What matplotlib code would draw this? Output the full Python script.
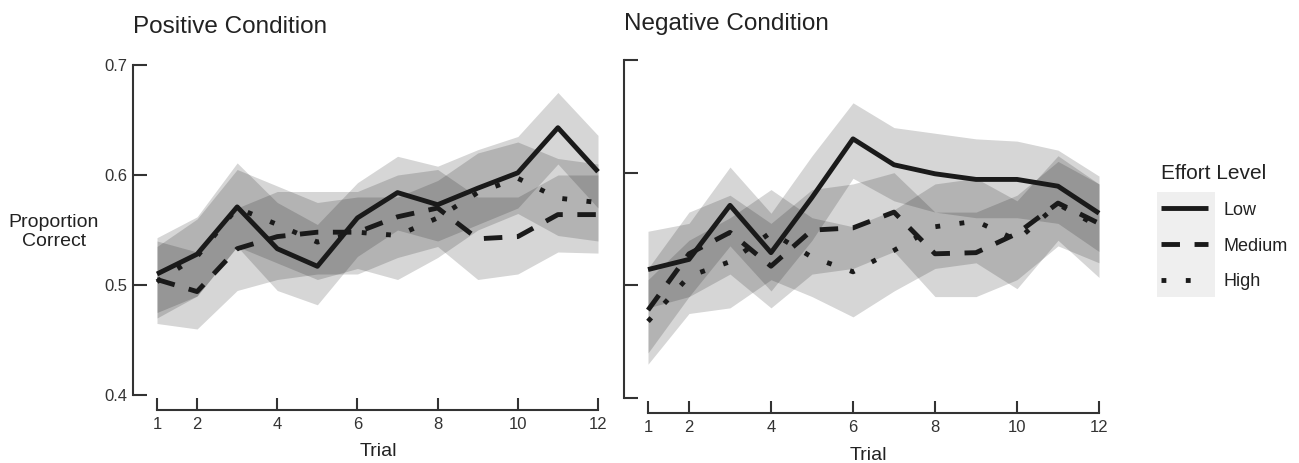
import matplotlib
matplotlib.use("Agg")
import matplotlib.pyplot as plt
from matplotlib.patches import Rectangle

plt.rcParams['font.family'] = ['Liberation Sans', 'DejaVu Sans']

trials = [1, 2, 3, 4, 5, 6, 7, 8, 9, 10, 11, 12]
xtick_labels = [1, 2, 4, 6, 8, 10, 12]
yticks = [0.4, 0.5, 0.6, 0.7]
levels = ["Low", "Medium", "High"]

# Positive condition
pos_low = [0.510, 0.528, 0.571, 0.533, 0.517, 0.561, 0.584, 0.573, 0.588, 0.602, 0.643, 0.603]
pos_med = [0.505, 0.494, 0.533, 0.544, 0.548, 0.548, 0.562, 0.570, 0.542, 0.544, 0.564, 0.564]
pos_high = [0.503, 0.526, 0.570, 0.555, 0.539, 0.548, 0.545, 0.561, 0.584, 0.597, 0.579, 0.575]
pos_low_lo = [0.475, 0.490, 0.535, 0.495, 0.482, 0.526, 0.550, 0.540, 0.555, 0.570, 0.610, 0.570]
pos_low_hi = [0.543, 0.562, 0.611, 0.575, 0.555, 0.593, 0.617, 0.608, 0.623, 0.635, 0.675, 0.636]
pos_med_lo = [0.465, 0.460, 0.495, 0.505, 0.510, 0.510, 0.525, 0.535, 0.505, 0.510, 0.530, 0.529]
pos_med_hi = [0.540, 0.530, 0.570, 0.585, 0.585, 0.585, 0.600, 0.605, 0.580, 0.580, 0.600, 0.600]
pos_high_lo = [0.470, 0.490, 0.535, 0.520, 0.505, 0.515, 0.505, 0.525, 0.550, 0.565, 0.545, 0.540]
pos_high_hi = [0.535, 0.560, 0.605, 0.590, 0.575, 0.580, 0.580, 0.595, 0.620, 0.630, 0.615, 0.610]

# Negative condition
neg_low = [0.514, 0.523, 0.571, 0.529, 0.578, 0.630, 0.607, 0.599, 0.594, 0.594, 0.588, 0.564]
neg_med = [0.478, 0.528, 0.547, 0.517, 0.549, 0.551, 0.565, 0.528, 0.529, 0.546, 0.573, 0.555]
neg_high = [0.468, 0.508, 0.521, 0.547, 0.525, 0.512, 0.531, 0.552, 0.557, 0.540, 0.572, 0.552]
neg_low_lo = [0.480, 0.490, 0.535, 0.495, 0.540, 0.595, 0.575, 0.565, 0.560, 0.560, 0.555, 0.530]
neg_low_hi = [0.548, 0.555, 0.605, 0.564, 0.615, 0.662, 0.640, 0.635, 0.630, 0.628, 0.620, 0.597]
neg_med_lo = [0.440, 0.490, 0.510, 0.480, 0.510, 0.515, 0.530, 0.490, 0.490, 0.505, 0.535, 0.520]
neg_med_hi = [0.515, 0.565, 0.580, 0.555, 0.585, 0.590, 0.600, 0.565, 0.565, 0.580, 0.610, 0.590]
neg_high_lo = [0.430, 0.475, 0.480, 0.505, 0.490, 0.472, 0.495, 0.515, 0.520, 0.497, 0.540, 0.507]
neg_high_hi = [0.505, 0.540, 0.560, 0.585, 0.560, 0.552, 0.567, 0.590, 0.595, 0.575, 0.615, 0.590]

W, H = 1299, 463
fig = plt.figure(figsize=(W / 100, H / 100), dpi=100)

line_color = '#1a1a1a'
spine_color = '#333333'
text_color = '#222222'
styles = {
    "Low": dict(linestyle='-'),
    "Medium": dict(linestyle=(0, (3.8, 3.0))),
    "High": dict(linestyle=(0, (1.0, 4.0))),
}


def px_axes(l, r, t, b):
    return fig.add_axes([l / W, (H - b) / H, (r - l) / W, (b - t) / H])


def setup(ax, xlim, ylim, show_ylabels):
    ax.set_xlim(*xlim)
    ax.set_ylim(*ylim)
    for s in ['top', 'right']:
        ax.spines[s].set_visible(False)
    for s in ['left', 'bottom']:
        ax.spines[s].set_color(spine_color)
        ax.spines[s].set_linewidth(1.5)
    ax.spines['left'].set_bounds(0.4, 0.7)
    ax.spines['bottom'].set_bounds(1, 12)
    ax.set_xticks(xtick_labels)
    ax.set_xticklabels([str(v) for v in xtick_labels])
    ax.set_yticks(yticks)
    if show_ylabels:
        ax.set_yticklabels(['0.4', '0.5', '0.6', '0.7'])
    else:
        ax.set_yticklabels([])
    ax.tick_params(axis='y', direction='in', length=10, width=1.5, color=spine_color,
                   labelsize=12, labelcolor='#333333', pad=4)
    ax.tick_params(axis='x', direction='in', length=8.5, width=1.5, color=spine_color,
                   labelsize=12, labelcolor='#333333', pad=5)
    ax.patch.set_alpha(0)


def draw(ax, series):
    for name, mean, lo, hi in series:
        ax.fill_between(trials, lo, hi, color='black', alpha=0.16, linewidth=0, zorder=1)
    handles = []
    for name, mean, lo, hi in series:
        h, = ax.plot(trials, mean, color=line_color, lw=3.5, solid_capstyle='butt',
                     dash_capstyle='butt', zorder=3, label=name, **styles[name])
        handles.append(h)
    return handles


# Left panel
ax1 = px_axes(133, 600, 63, 410)
setup(ax1, (1 - 24 / 40.1, 12 + 2 / 40.1), (0.4 - 15 / 1100, 0.7 + 2 / 1100), True)
handles = draw(ax1, [("Low", pos_low, pos_low_lo, pos_low_hi),
                     ("Medium", pos_med, pos_med_lo, pos_med_hi),
                     ("High", pos_high, pos_high_lo, pos_high_hi)])

# Right panel
ax2 = px_axes(624, 1101, 58, 413)
setup(ax2, (1 - 24 / 41, 12 + 2 / 41), (0.4 - 15 / 1127, 0.7 + 2 / 1127), False)
draw(ax2, [("Low", neg_low, neg_low_lo, neg_low_hi),
           ("Medium", neg_med, neg_med_lo, neg_med_hi),
           ("High", neg_high, neg_high_lo, neg_high_hi)])

# Titles
fig.text(133 / W, 1 - 33 / H, "Positive Condition", fontsize=17.5, color=text_color,
         ha='left', va='baseline')
fig.text(624 / W, 1 - 30 / H, "Negative Condition", fontsize=17.5, color=text_color,
         ha='left', va='baseline')

# Axis labels
fig.text(54 / W, 1 - 232 / H, "Proportion\nCorrect", fontsize=14, color=text_color,
         ha='center', va='center', linespacing=1.1)
fig.text(378 / W, 1 - 452 / H, "Trial", fontsize=14, color=text_color, ha='center', va='center')
fig.text(868 / W, 1 - 455 / H, "Trial", fontsize=14, color=text_color, ha='center', va='center')

# Legend key background
fig.patches.append(Rectangle((1157 / W, (H - 297) / H), 58 / W, 105 / H,
                             transform=fig.transFigure, facecolor='#efefef',
                             edgecolor='none', zorder=0))

leg = fig.legend(handles=handles, labels=levels, loc='upper left',
                 bbox_to_anchor=(1157 / W, 1 - 160 / H), frameon=False,
                 title="Effort Level", title_fontsize=15, fontsize=13,
                 handlelength=2.6, handletextpad=0.9, labelspacing=1.05,
                 borderpad=0.2, borderaxespad=0, alignment='left')
plt.setp(leg.get_texts(), color=text_color)
leg.get_title().set_color(text_color)

fig.savefig("out.png", dpi=100)
